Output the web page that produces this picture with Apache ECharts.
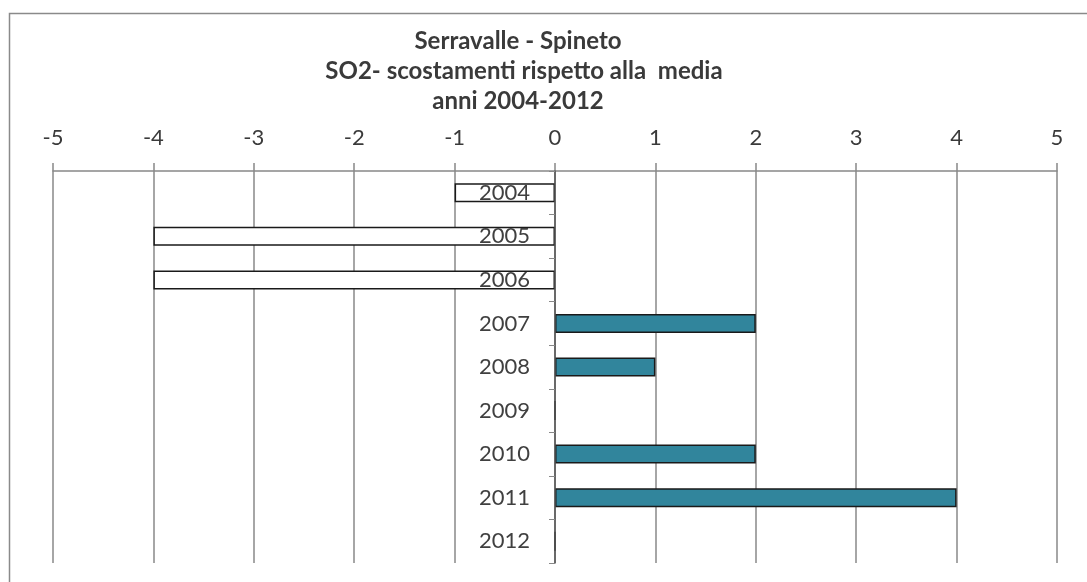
<!DOCTYPE html>
<html>
<head>
<meta charset="utf-8">
<script src="https://cdn.jsdelivr.net/npm/echarts@6/dist/echarts.min.js"></script>
<style>
  html, body { margin: 0; padding: 0; background: #fff; }
  #chart { width: 1087px; height: 582px; }
</style>
</head>
<body>
<div id="chart"></div>
<script>
// SO2 deviations from the 2004-2012 mean, Serravalle - Spineto
const years = ['2004', '2005', '2006', '2007', '2008', '2009', '2010', '2011', '2012'];
const deviations = [-1, -4, -4, 2, 1, 0, 2, 4, 0];
const axisMin = -5;
const axisMax = 5;

const FONT = 'Lato, "Open Sans", sans-serif';
const WIDTH = 1087;
const GRID_LEFT = 53;
const GRID_RIGHT = 30;
// The category axis sits on the zero line of the value axis, labels included.
const plotWidth = WIDTH - GRID_LEFT - GRID_RIGHT;
const zeroOffset = -plotWidth * (0 - axisMin) / (axisMax - axisMin);

const chart = echarts.init(document.getElementById('chart'));
const titleStyle = { fontFamily: FONT, fontSize: 24, fontWeight: 'bold', color: '#3a3a3a' };

chart.setOption({
  backgroundColor: '#ffffff',
  animation: false,
  title: [
    { text: 'Serravalle - Spineto', left: 513, top: 24, textAlign: 'center', textStyle: titleStyle },
    { text: 'SO2- scostamenti rispetto alla  media', left: 519, top: 54, textAlign: 'center', textStyle: titleStyle },
    { text: 'anni 2004-2012', left: 513, top: 84, textAlign: 'center', textStyle: titleStyle }
  ],
  graphic: [{
    type: 'rect',
    shape: { x: 9.5, y: 13.5, width: 1100, height: 600 },
    style: { fill: 'none', stroke: '#8a8a8a', lineWidth: 1.5 },
    silent: true
  }],
  grid: {
    left: GRID_LEFT, right: GRID_RIGHT, top: 171, bottom: 19,
    containLabel: false, outerBoundsMode: 'none'
  },
  xAxis: {
    type: 'value',
    position: 'top',
    min: axisMin,
    max: axisMax,
    interval: 1,
    z: 0,
    axisLine: { show: true, lineStyle: { color: '#888', width: 1.5 } },
    axisTick: { show: true, length: 8, lineStyle: { color: '#888', width: 1.5 } },
    axisLabel: { fontFamily: FONT, fontSize: 22, color: '#3a3a3a', margin: 22 },
    splitLine: { show: true, lineStyle: { color: '#888', width: 1.5 } }
  },
  yAxis: {
    type: 'category',
    data: years,
    inverse: true,
    offset: zeroOffset,
    z: 3,
    axisLine: { show: true, onZero: false, lineStyle: { color: '#555', width: 1.5 } },
    axisTick: { show: true, length: 6, lineStyle: { color: '#888' } },
    axisLabel: { fontFamily: FONT, fontSize: 22, color: '#404040', margin: 25 },
    splitLine: { show: false }
  },
  series: [{
    type: 'bar',
    data: deviations.map(v => ({
      value: v,
      itemStyle: v < 0
        ? { color: '#ffffff', borderColor: '#1a1a1a', borderWidth: 1.5 }
        : { color: '#31859c', borderColor: '#1a1a1a', borderWidth: 1.5 }
    })),
    barWidth: 19,
    z: 2
  }]
});
</script>
</body>
</html>
